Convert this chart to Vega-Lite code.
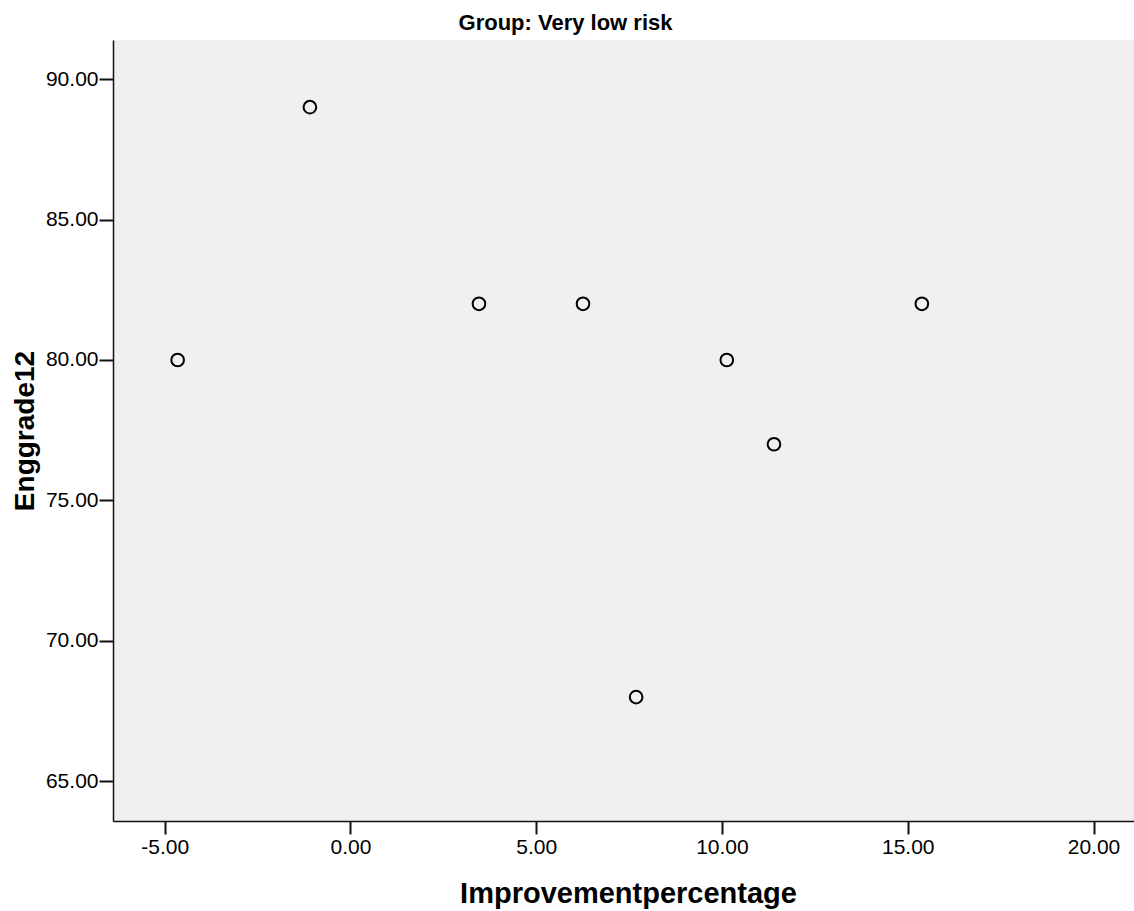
{
  "$schema": "https://vega.github.io/schema/vega-lite/v6.json",
  "autosize": {"type": "none"},
  "padding": {"left": 113, "top": 40, "right": 0, "bottom": 90},
  "width": 1021,
  "height": 781,
  "background": "white",
  "title": {
    "text": "Group: Very low risk",
    "anchor": "middle",
    "frame": "group",
    "dx": -58,
    "baseline": "alphabetic",
    "offset": -12,
    "font": "Liberation Sans",
    "fontSize": 22,
    "fontWeight": "bold",
    "color": "black"
  },
  "config": {
    "view": {"fill": "#f0f0f0", "stroke": null},
    "axis": {
      "grid": false,
      "domainColor": "#111111",
      "domainWidth": 1.5,
      "tickColor": "#111111",
      "tickWidth": 2,
      "labelFont": "Liberation Sans",
      "labelFontSize": 21,
      "labelColor": "black",
      "titleFont": "Liberation Sans",
      "titleFontSize": 28,
      "titleFontWeight": "bold",
      "titleColor": "black"
    }
  },
  "data": {
    "values": [
      {"Improvementpercentage": -4.65, "Enggrade12": 80},
      {"Improvementpercentage": -1.09, "Enggrade12": 89},
      {"Improvementpercentage": 3.46, "Enggrade12": 82},
      {"Improvementpercentage": 6.26, "Enggrade12": 82},
      {"Improvementpercentage": 7.69, "Enggrade12": 68},
      {"Improvementpercentage": 10.13, "Enggrade12": 80},
      {"Improvementpercentage": 11.40, "Enggrade12": 77},
      {"Improvementpercentage": 15.38, "Enggrade12": 82}
    ]
  },
  "mark": {"type": "point", "shape": "circle", "size": 160, "filled": false, "stroke": "black", "strokeWidth": 2, "opacity": 1},
  "encoding": {
    "x": {
      "field": "Improvementpercentage",
      "type": "quantitative",
      "scale": {"domain": [-6.39, 21.09], "nice": false, "zero": false},
      "axis": {
        "title": "Improvementpercentage",
        "values": [-5, 0, 5, 10, 15, 20],
        "format": ".2f",
        "labelExpr": "replace(datum.label, '\u2212', '-')",
        "tickSize": 13,
        "labelPadding": 2,
        "titleFontSize": 29,
        "titleBaseline": "alphabetic",
        "titleY": 81,
        "titleX": 515
      }
    },
    "y": {
      "field": "Enggrade12",
      "type": "quantitative",
      "scale": {"domain": [63.59, 91.39], "nice": false, "zero": false},
      "axis": {
        "title": "Enggrade12",
        "values": [65, 70, 75, 80, 85, 90],
        "format": ".2f",
        "tickSize": 14,
        "labelPadding": 1,
        "titleBaseline": "alphabetic",
        "titleX": -80
      }
    }
  }
}
